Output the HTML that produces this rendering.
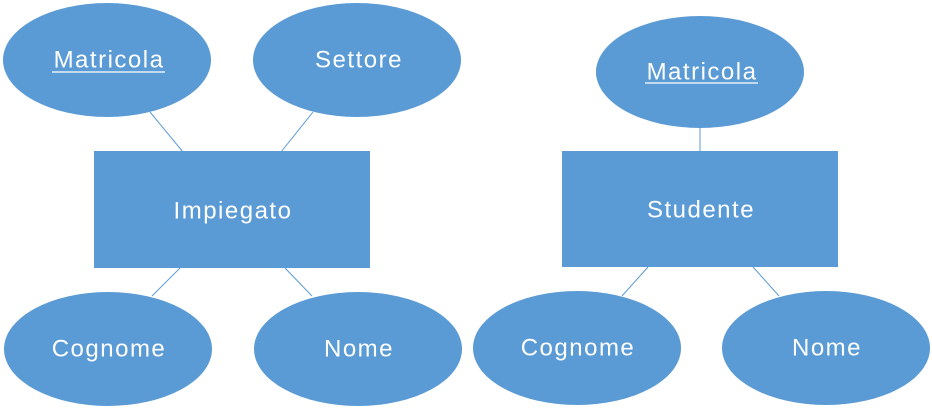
<!DOCTYPE html>
<html><head><style>html,body{margin:0;padding:0;background:#fff;}svg{display:block}
text{font-family:"Liberation Sans",sans-serif;font-size:24px;letter-spacing:1.5px;fill:#fff;text-anchor:middle;dominant-baseline:central}</style></head>
<body>
<svg width="932" height="408" viewBox="0 0 932 408">
<g stroke="#5b9bd5" stroke-width="1">
<line x1="150" y1="112" x2="183" y2="152"/>
<line x1="313" y1="112" x2="281" y2="152"/>
<line x1="180" y1="268" x2="152" y2="296"/>
<line x1="285" y1="268" x2="312" y2="296"/>
<line x1="700" y1="126" x2="700" y2="152"/>
<line x1="648" y1="267" x2="622" y2="296"/>
<line x1="753" y1="267" x2="779" y2="296"/>
</g>
<g fill="#5b9bd5">
<ellipse cx="107" cy="60" rx="104" ry="57"/>
<ellipse cx="357" cy="60" rx="104" ry="57"/>
<rect x="94" y="151" width="276" height="117"/>
<ellipse cx="108" cy="349" rx="104" ry="57"/>
<ellipse cx="358" cy="349" rx="104" ry="57"/>
<ellipse cx="700" cy="72" rx="104" ry="56"/>
<rect x="562" y="151" width="276" height="116"/>
<ellipse cx="577" cy="348" rx="104" ry="57"/>
<ellipse cx="826" cy="348" rx="104" ry="57"/>
</g>
<text x="109" y="60">Matricola</text>
<line x1="52" y1="72" x2="165" y2="72" stroke="#fff" stroke-width="1.2"/>
<text x="359" y="60">Settore</text>
<text x="233" y="211">Impiegato</text>
<text x="109" y="349">Cognome</text>
<text x="359" y="349">Nome</text>
<text x="702" y="72">Matricola</text>
<line x1="645" y1="83" x2="758" y2="83" stroke="#fff" stroke-width="1.2"/>
<text x="701" y="210">Studente</text>
<text x="578" y="348">Cognome</text>
<text x="827" y="348">Nome</text>
</svg>
</body></html>
